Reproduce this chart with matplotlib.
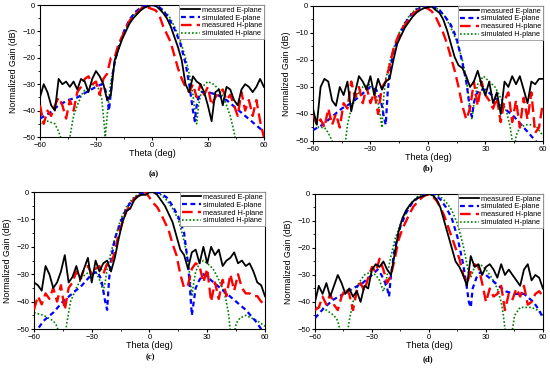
import numpy as np
import matplotlib
matplotlib.use('Agg')
import matplotlib.pyplot as plt
from matplotlib.ticker import MultipleLocator

plt.rcParams['font.family'] = ['Liberation Sans', 'DejaVu Sans']

# measured curves sampled every 2 deg from -60 to 60
theta_meas = np.arange(-60, 61, 2)

# ---------- panel (a) ----------
me_a = [-35, -30, -33, -38, -40, -28, -30, -29, -31, -29, -32, -28, -29, -33, -28, -25,
        -27, -30, -36, -34, -21, -17, -13, -10, -7, -5, -3.5, -2, -1, -0.5, 0,
        -0.3, -1.5, -3, -5, -8, -12, -16, -21, -30, -33, -27, -29, -30, -33, -38,
        -44, -33, -32, -38, -31, -32, -36, -38, -32, -30, -31, -33, -31, -28, -31]
mh_a = [-38, -45, -40, -42, -38, -35, -38, -43, -36, -40, -33, -31, -28, -27, -30, -29,
        -34, -28, -26, -20, -20, -15, -12, -9, -6, -4, -3, -1.5, -0.5, -1, -1.5,
        -2, -4, -8, -11, -14, -19, -24, -28, -31, -33, -30, -35, -30, -34, -31,
        -38, -35, -33, -32, -36, -34, -38, -42, -33, -40, -36, -42, -36, -44, -50]
theta_se_a = [-60, -55, -50, -45, -40, -35, -30, -27, -25, -24, -23, -22, -21, -20, -18, -15,
              -12, -9, -6, -3, 0, 3, 6, 9, 12, 15, 18, 20, 21, 22, 23, 24, 25, 27, 30, 35,
              40, 45, 50, 55, 60]
se_a = [-43, -41, -38, -36, -35, -33, -31, -30, -32, -35, -40, -33, -26, -22, -16, -10,
        -5.5, -2.7, -1, -0.2, 0, -0.3, -2, -5, -9, -14, -22, -30, -35, -40, -44, -38, -35,
        -33, -33, -34, -36, -39, -42, -45, -48]
theta_sh_a = [-60, -56, -52, -50, -49, -48, -46, -45, -44, -42, -40, -37, -34, -31, -29, -27,
              -26, -25, -24, -23, -22, -20, -18, -15, -12, -9, -6, -3, 0, 3, 6, 9, 12, 15,
              18, 20, 22, 23, 24, 25, 27, 30, 33, 36, 39, 42, 44, 45, 46, 50, 55, 60]
sh_a = [-45, -44, -45, -48, -50, -55, -60, -55, -50, -42, -38, -33, -31, -30, -31, -35,
        -42, -50, -42, -35, -29, -22, -17, -11, -6.5, -3, -1, -0.2, 0, -0.5, -2, -4, -8,
        -13, -20, -26, -34, -40, -45, -38, -31, -29, -30, -32, -36, -42, -48, -52, -58,
        -60, -60, -60]

# ---------- panel (b) ----------
me_b = [-38, -44, -30, -27, -28, -35, -37, -30, -33, -28, -39, -32, -26, -28, -31, -26,
        -33, -27, -31, -28, -27, -20, -14, -11, -8, -6, -4, -2.5, -1.5, -0.8, -0.5,
        -0.2, -1.5, -2.5, -5, -9, -14, -19, -22, -23, -26, -30, -28, -24, -29, -33,
        -28, -36, -32, -40, -28, -30, -26, -29, -26, -31, -36, -28, -29, -27, -27]
mh_b = [-40, -44, -42, -45, -38, -44, -40, -45, -36, -38, -28, -34, -30, -36, -30, -36,
        -32, -40, -30, -28, -22, -16, -12, -9, -7, -5, -3, -2, -1, -0.5, -1,
        -2, -4, -7, -10, -14, -19, -24, -30, -37, -42, -38, -28, -37, -28, -33,
        -35, -38, -34, -43, -35, -32, -43, -35, -45, -34, -42, -32, -47, -45, -36]
theta_se_b = [-60, -55, -50, -45, -40, -35, -30, -27, -25, -24, -23, -22, -21, -20, -18, -15,
              -12, -9, -6, -3, 0, 3, 6, 9, 12, 15, 18, 20, 21, 22, 23, 24, 25, 27, 30, 35,
              40, 45, 50, 55, 60]
se_b = [-46, -44, -41, -38, -36, -33, -30, -31, -34, -37, -41, -44, -32, -25, -17, -11,
        -6.5, -3.5, -1.5, -0.3, 0, -0.3, -1.5, -4, -7, -12, -21, -28, -33, -39, -41, -36,
        -33, -31, -31, -34, -38, -41, -45, -49, -53]
theta_sh_b = [-60, -57, -54, -52, -50, -48, -46, -44, -43, -42, -40, -37, -34, -31, -29, -27,
              -26, -25, -24, -23, -22, -20, -18, -15, -12, -9, -6, -3, 0, 3, 6, 9, 12, 15,
              18, 20, 21, 22, 23, 24, 26, 29, 32, 35, 38, 41, 43, 44, 45, 46, 48, 51, 54,
              57, 60]
sh_b = [-41, -45, -45, -47, -50, -55, -58, -55, -50, -44, -38, -33, -30, -29, -30, -33,
        -36, -40, -45, -33, -27, -21, -16, -10, -6, -3, -1, -0.2, 0, -0.3, -1.5, -4, -8,
        -13, -20, -27, -32, -38, -42, -36, -29, -26, -28, -30, -34, -39, -45, -50, -55,
        -48, -45, -44, -44, -45, -48]

# ---------- panel (c) ----------
me_c = [-33, -34, -36, -27, -30, -35, -33, -29, -23, -33, -31, -27, -32, -28, -24, -33,
        -25, -29, -26, -25, -29, -24, -17, -11, -7, -6, -3, -1.5, -1, -1, 0,
        0, -1, -3, -5, -8, -11, -16, -21, -23, -28, -22, -21, -26, -20, -26,
        -20, -23, -21, -27, -25, -24, -22, -26, -25, -27, -26, -29, -33, -34, -38]
mh_c = [-43, -38, -41, -37, -39, -35, -40, -34, -43, -35, -33, -29, -32, -28, -27, -30,
        -28, -27, -30, -26, -26, -22, -15, -11, -7, -4.5, -2.5, -1.5, -0.5, 0, -2,
        -4, -5.5, -8, -11, -14, -19, -23, -30, -35, -34, -28, -26, -27, -33, -28,
        -40, -33, -39, -32, -38, -30, -36, -30, -35, -37, -37, -38, -38, -40, -41]
theta_se_c = [-60, -58, -55, -50, -45, -40, -35, -30, -27, -25, -24, -23, -22, -21, -20, -18,
              -15, -12, -9, -6, -3, 0, 3, 6, 9, 12, 15, 18, 20, 21, 22, 23, 24, 26, 28, 30,
              35, 40, 45, 50, 55, 58, 60]
se_c = [-52, -50, -47, -44, -40, -37, -34, -30, -29, -32, -36, -40, -43, -32, -25, -17,
        -11, -6, -3, -1.2, -0.3, 0, 0, -0.5, -2, -5, -9, -15, -26, -35, -45, -40, -35,
        -32, -30, -31, -34, -37, -40, -43, -47, -50, -52]
theta_sh_c = [-60, -55, -50, -48, -47, -46, -45, -44, -43, -41, -38, -35, -31, -28, -26, -24,
              -23, -22, -20, -18, -15, -12, -9, -6, -3, 0, 3, 6, 9, 12, 15, 18, 20, 21, 22,
              23, 24, 26, 28, 30, 33, 36, 39, 41, 42, 43, 44, 45, 47, 50, 53, 56, 60]
sh_c = [-44, -45, -47, -49, -52, -56, -58, -54, -48, -40, -35, -31, -29, -29, -32, -36,
        -33, -28, -22, -17, -10, -5.5, -2.5, -0.8, -0.1, 0, -0.2, -1, -3, -6, -10, -18,
        -25, -31, -38, -33, -29, -26, -25, -26, -28, -32, -37, -44, -51, -58, -52, -48,
        -46, -45, -46, -47, -49]

# ---------- panel (d) ----------
me_d = [-40, -34, -37, -33, -38, -34, -30, -33, -37, -35, -38, -36, -40, -34, -35, -28,
        -26, -27, -25, -28, -30, -22, -14, -9, -6, -4, -2.5, -1.5, -1, -0.5, 0,
        -0.5, -2, -5, -10, -15, -20, -25, -27, -30, -34, -23, -27, -26, -30, -27,
        -26, -28, -31, -26, -30, -28, -30, -32, -34, -28, -26, -32, -30, -31, -35]
mh_d = [-43, -42, -38, -41, -37, -41, -43, -38, -35, -37, -43, -36, -33, -36, -31, -27,
        -29, -24, -28, -33, -30, -24, -17, -13, -10, -7, -4.5, -3, -1.5, -0.5, -0.2,
        -1, -2.5, -5, -8, -12, -16, -20, -24, -30, -33, -29, -26, -27, -33, -40,
        -35, -38, -37, -34, -43, -37, -39, -35, -38, -34, -41, -40, -37, -36, -38]
theta_se_d = [-60, -55, -50, -45, -40, -35, -30, -27, -25, -23, -22, -21, -20, -18, -15, -12,
              -9, -6, -3, 0, 3, 6, 9, 12, 15, 18, 20, 21, 22, 23, 25, 27, 30, 35, 40, 45,
              50, 55, 58, 60]
se_d = [-46, -42, -39, -37, -35, -33, -30, -28, -30, -33, -35, -38, -30, -20, -12, -7,
        -3.5, -1.5, -0.3, 0, -0.3, -2, -5, -9, -16, -26, -35, -40, -42, -35, -31, -29,
        -30, -33, -36, -37, -37, -40, -43, -46]
theta_sh_d = [-60, -57, -54, -50, -48, -47, -46, -45, -44, -43, -42, -40, -37, -34, -31, -28,
              -26, -24, -23, -22, -20, -18, -15, -12, -9, -6, -3, 0, 3, 6, 9, 12, 15, 18,
              20, 21, 22, 24, 27, 30, 33, 36, 38, 39, 40, 41, 42, 43, 44, 45, 48, 51, 54,
              57, 60]
sh_d = [-42, -42, -43, -45, -47, -50, -54, -57, -56, -52, -47, -40, -33, -30, -29, -30,
        -32, -36, -34, -30, -23, -17, -11, -6.5, -3, -1, -0.2, 0, -0.2, -1, -3, -6, -11,
        -19, -26, -30, -31, -27, -26, -28, -31, -35, -40, -44, -50, -55, -58, -56, -50,
        -45, -42, -42, -42, -43, -45]

panels = [
    ('(a)', me_a, theta_se_a, se_a, mh_a, theta_sh_a, sh_a),
    ('(b)', me_b, theta_se_b, se_b, mh_b, theta_sh_b, sh_b),
    ('(c)', me_c, theta_se_c, se_c, mh_c, theta_sh_c, sh_c),
    ('(d)', me_d, theta_se_d, se_d, mh_d, theta_sh_d, sh_d),
]

# axes rectangles (fig fractions) and sub-label positions
rects = [
    [0.0727, 0.6307, 0.407, 0.3558],
    [0.569, 0.620, 0.418, 0.364],
    [0.0618, 0.1132, 0.42, 0.369],
    [0.5727, 0.1132, 0.4145, 0.364],
]
tag_pos = [(0.28, 0.530), (0.778, 0.547), (0.273, 0.038), (0.778, 0.033)]

fig = plt.figure(figsize=(5.5, 3.71), dpi=100)

for (tag, me, t_se, se, mh, t_sh, sh), rect, tp in zip(panels, rects, tag_pos):
    ax = fig.add_axes(rect)
    ax.plot(theta_meas, me, color='black', lw=1.3, label='measured E-plane', zorder=4)
    ax.plot(t_se, se, color='#0000ff', lw=1.6, ls=(0, (2.2, 1.6)), label='simulated E-plane', zorder=3)
    ax.plot(theta_meas, mh, color='#ff0000', lw=1.7, ls=(0, (4.5, 2.2)), label='measured H-plane', zorder=3)
    ax.plot(t_sh, sh, color='#008000', lw=1.2, ls=(0, (1, 1.2)), label='simulated H-plane', zorder=2)

    ax.set_xlim(-60, 60)
    ax.set_ylim(-50, 0)
    ax.xaxis.set_major_locator(MultipleLocator(30))
    ax.xaxis.set_minor_locator(MultipleLocator(15))
    ax.yaxis.set_major_locator(MultipleLocator(10))
    ax.yaxis.set_minor_locator(MultipleLocator(5))
    ax.tick_params(which='major', direction='out', length=2.5, width=0.8, labelsize=5.5, pad=1)
    ax.tick_params(which='minor', direction='out', length=1.5, width=0.6)
    for s in ax.spines.values():
        s.set_linewidth(0.8)

    ax.set_xlabel('Theta (deg)', fontsize=6.5, labelpad=0.3)
    ax.set_ylabel('Normalized Gain (dB)', fontsize=6.3, labelpad=3)

    leg = ax.legend(loc='upper right', fontsize=5.3, handlelength=2.6, handletextpad=0.3,
                    borderpad=0.2, labelspacing=0.1, borderaxespad=0.0,
                    fancybox=False, framealpha=1)
    leg.get_frame().set_edgecolor('#999999')
    leg.get_frame().set_linewidth(0.6)

    fig.text(tp[0], tp[1], tag, fontsize=6.3, fontweight='bold',
             family='Liberation Serif', ha='center', va='center')

plt.savefig('out.png', dpi=100)
